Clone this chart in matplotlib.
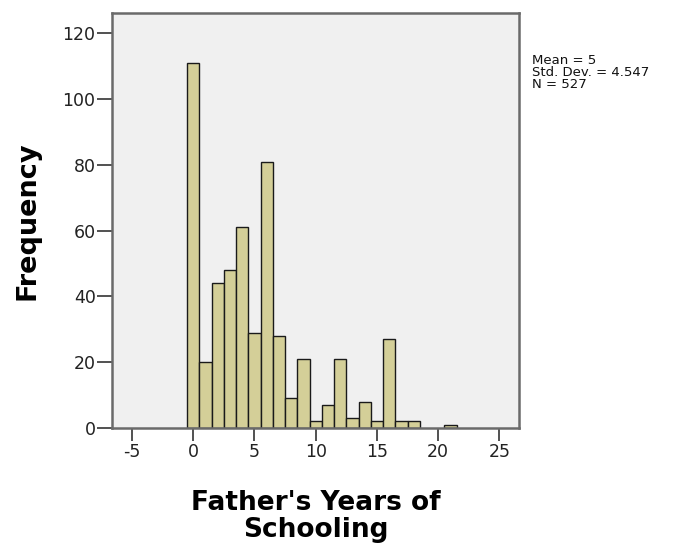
import matplotlib
matplotlib.use("Agg")
import matplotlib.pyplot as plt
import numpy as np

plt.rcParams["axes.unicode_minus"] = False

# Data (SPSS histogram, bins of width 1 centred on integers)
years = list(range(0, 22))
freq = [111, 20, 44, 48, 61, 29, 81, 28, 9, 21, 2, 7, 21, 3, 8, 2, 27, 2, 2, 0, 0, 1]
xticks = [-5, 0, 5, 10, 15, 20, 25]
yticks = [0, 20, 40, 60, 80, 100, 120]
stats = ["Mean = 5", "Std. Dev. = 4.547", "N = 527"]
xlabel = "Father's Years of\nSchooling"
ylabel = "Frequency"

fig = plt.figure(figsize=(6.83, 5.5), dpi=100)
ax = fig.add_axes([0.1644, 0.2218, 0.5955, 0.7537])
ax.set_facecolor("#F0F0F0")

ys = [y for y, f in zip(years, freq) if f > 0]
fs = [f for f in freq if f > 0]
ax.bar(ys, fs, width=1.0, color="#D4CF98", edgecolor="#1a1a1a", linewidth=1.0)

ax.set_xlim(-6.6, 26.6)
ax.set_ylim(0, 126)
ax.set_xticks(xticks)
ax.set_yticks(yticks)
for s in ax.spines.values():
    s.set_color("#6a6a6a")
    s.set_linewidth(1.8)
ax.tick_params(axis="both", direction="out", color="#333333", width=1.2,
               labelsize=12.5, labelcolor="#222222")
ax.tick_params(axis="y", length=11, pad=1)
ax.tick_params(axis="x", length=9, pad=2)

ax.set_xlabel(xlabel, fontsize=19, fontweight="bold", linespacing=1.05, labelpad=21)
ax.set_ylabel(ylabel, fontsize=19.5, fontweight="bold", labelpad=16)

fig.text(532 / 683, 1 - 54 / 550, "\n".join(stats), fontsize=9.5, va="top", ha="left",
         linespacing=0.92, color="#111111")

fig.savefig("out.png", dpi=100)
